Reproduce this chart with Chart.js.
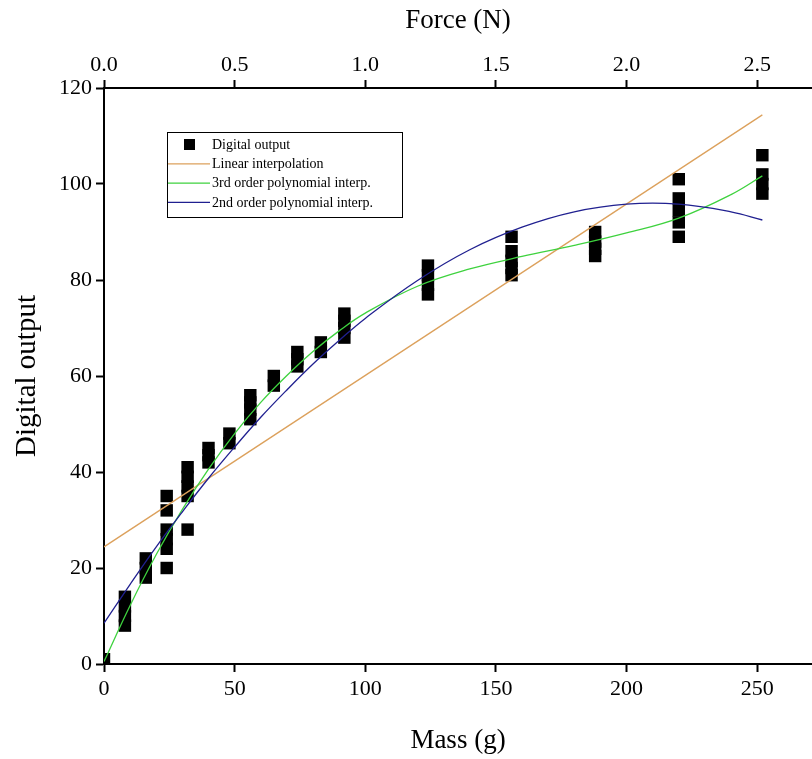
<!DOCTYPE html>
<html>
<head>
<meta charset="utf-8">
<title>Digital output vs mass</title>
<script src="https://cdn.jsdelivr.net/npm/chart.js@4.4.1/dist/chart.umd.min.js"></script>
<style>
  html, body { margin: 0; padding: 0; background: #fff; overflow: hidden; }
  #wrap { width: 812px; height: 759px; }
</style>
</head>
<body>
<div id="wrap"><canvas id="sensorChart"></canvas></div>
<script>
// calibration weights (g) and the sensor readings taken at each one
const massLevels = [0, 8, 16, 24, 32, 40, 48, 56, 65, 74, 83, 92, 124, 156, 188, 220, 252];
const readings = [
    [1],
    [8, 10, 12, 14],
    [18, 20, 22],
    [20, 24, 26, 28, 32, 35],
    [28, 35, 37, 39, 41],
    [42, 43.5, 45],
    [46, 48],
    [51, 53, 54.5, 56],
    [58, 60],
    [62, 63.5, 65],
    [65, 67],
    [68, 70, 71.5, 73],
    [77, 79, 81, 83],
    [81, 82.5, 84, 86, 89],
    [85, 86.5, 88, 90],
    [89, 92, 94.5, 97, 101],
    [98, 100, 102, 106]
];

// fitted curves
const linearMass = [0, 252];
const linearFit = [24.4, 114.4];
const fitMass = [0, 10, 20, 30, 40, 50, 60, 70, 80, 90, 100, 120, 140, 160, 180, 200, 220, 240, 252];
const cubicFit = [0.5, 12.2, 22.8, 32.2, 40.6, 48.0, 54.5, 60.1, 65.1, 69.4, 73.1, 78.7, 82.3, 84.9, 87.2, 89.8, 92.9, 97.8, 101.7];
const quadFit = [8.5, 16.6, 24.4, 31.7, 38.7, 45.2, 51.4, 57.1, 62.5, 67.4, 72.0, 79.9, 86.3, 91.0, 94.2, 95.8, 95.8, 94.2, 92.5];

const massTicks = [0, 50, 100, 150, 200, 250];
const forceTicks = [0, 0.5, 1.0, 1.5, 2.0, 2.5];
const outputTicks = [0, 20, 40, 60, 80, 100, 120];

const MASS_MAX = 271;
const serif = '"Liberation Serif", "DejaVu Serif", serif';

const points = massLevels.flatMap((m, i) => readings[i].map(v => ({ x: m, y: v })));
const pairs = (xs, ys) => xs.map((x, i) => ({ x: x, y: ys[i] }));

const colors = {
    linear: '#dca15c',
    cubic: '#3ed23e',
    quad: '#202090'
};

// legend box drawn inside the plot area
const legendBox = {
    id: 'legendBox',
    afterDraw(chart) {
        const ctx = chart.ctx;
        const box = { x: 167, y: 132, w: 235, h: 85 };
        ctx.save();
        ctx.fillStyle = '#fff';
        ctx.fillRect(box.x, box.y, box.w, box.h);
        ctx.strokeStyle = '#000';
        ctx.lineWidth = 1;
        ctx.strokeRect(box.x + 0.5, box.y + 0.5, box.w, box.h);

        const rows = [
            { text: 'Digital output', kind: 'square' },
            { text: 'Linear interpolation', kind: 'line', color: colors.linear },
            { text: '3rd order polynomial interp.', kind: 'line', color: colors.cubic },
            { text: '2nd order polynomial interp.', kind: 'line', color: colors.quad }
        ];
        ctx.font = '14px ' + serif;
        ctx.textBaseline = 'middle';
        rows.forEach((r, i) => {
            const y = box.y + 12 + i * 19.3;
            if (r.kind === 'square') {
                ctx.fillStyle = '#000';
                ctx.fillRect(184, y - 5, 11, 11);
            } else {
                ctx.strokeStyle = r.color;
                ctx.lineWidth = 1.3;
                ctx.beginPath();
                ctx.moveTo(168, y + 0.5);
                ctx.lineTo(210, y + 0.5);
                ctx.stroke();
            }
            ctx.fillStyle = '#000';
            ctx.fillText(r.text, 212, y + 1);
        });
        ctx.restore();
    }
};

const axisCommon = {
    border: { display: true, color: '#000', width: 2 },
    grid: {
        drawOnChartArea: false,
        drawTicks: true,
        tickLength: 8,
        tickWidth: 2,
        tickColor: '#000'
    }
};

new Chart(document.getElementById('sensorChart'), {
    type: 'scatter',
    data: {
        datasets: [
            {
                label: 'Linear interpolation',
                data: pairs(linearMass, linearFit),
                showLine: true,
                borderColor: colors.linear,
                borderWidth: 1.3,
                pointRadius: 0,
                order: 3
            },
            {
                label: '3rd order polynomial interp.',
                data: pairs(fitMass, cubicFit),
                showLine: true,
                borderColor: colors.cubic,
                borderWidth: 1.3,
                pointRadius: 0,
                tension: 0.4,
                order: 2
            },
            {
                label: '2nd order polynomial interp.',
                data: pairs(fitMass, quadFit),
                showLine: true,
                borderColor: colors.quad,
                borderWidth: 1.3,
                pointRadius: 0,
                tension: 0.4,
                order: 1
            },
            {
                label: 'Digital output',
                data: points,
                pointStyle: 'rect',
                pointRadius: 8.8,
                pointBorderWidth: 0,
                backgroundColor: '#000',
                borderColor: '#000',
                clip: 0,
                order: 4
            }
        ]
    },
    options: {
        responsive: true,
        maintainAspectRatio: false,
        animation: false,
        layout: { padding: 0, autoPadding: false },
        plugins: {
            legend: { display: false },
            tooltip: { enabled: false }
        },
        scales: {
            x: {
                ...axisCommon,
                type: 'linear',
                position: 'bottom',
                min: 0,
                max: MASS_MAX,
                afterBuildTicks: s => { s.ticks = massTicks.map(v => ({ value: v })); },
                afterFit: s => { s.height = 95; },
                ticks: {
                    color: '#000',
                    font: { family: serif, size: 22 },
                    padding: 4,
                    maxRotation: 0
                },
                title: {
                    display: true,
                    text: 'Mass (g)',
                    color: '#000',
                    font: { family: serif, size: 27 },
                    padding: { bottom: 2 }
                }
            },
            x2: {
                ...axisCommon,
                type: 'linear',
                position: 'top',
                min: 0,
                max: MASS_MAX / 100,
                afterBuildTicks: s => { s.ticks = forceTicks.map(v => ({ value: v })); },
                afterFit: s => { s.height = 88; },
                ticks: {
                    color: '#000',
                    font: { family: serif, size: 22 },
                    padding: 2,
                    maxRotation: 0,
                    callback: v => v.toFixed(1)
                },
                title: {
                    display: true,
                    text: 'Force (N)',
                    color: '#000',
                    font: { family: serif, size: 27 },
                    padding: { top: 5 }
                }
            },
            y: {
                ...axisCommon,
                type: 'linear',
                position: 'left',
                min: 0,
                max: 120,
                afterBuildTicks: s => { s.ticks = outputTicks.map(v => ({ value: v })); },
                afterFit: s => { s.width = 104; },
                ticks: {
                    color: '#000',
                    font: { family: serif, size: 22 },
                    padding: 4
                },
                title: {
                    display: true,
                    text: 'Digital output',
                    color: '#000',
                    font: { family: serif, size: 29 },
                    padding: { top: 10 }
                }
            }
        }
    },
    plugins: [legendBox]
});
</script>
</body>
</html>
